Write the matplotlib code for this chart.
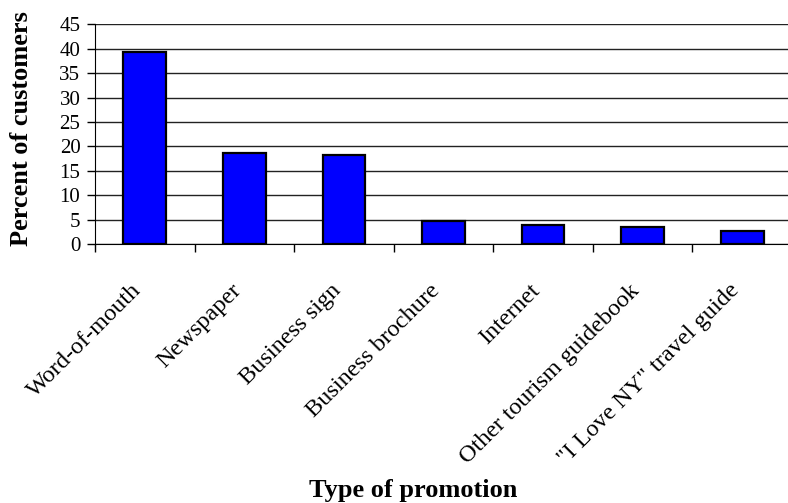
import matplotlib
matplotlib.use("Agg")
import matplotlib.pyplot as plt
import matplotlib.transforms as mtransforms
import numpy as np

categories = ["Word-of-mouth", "Newspaper", "Business sign", "Business brochure",
              "Internet", "Other tourism guidebook", "\"I Love NY\" travel guide"]
percent = [39.4, 18.6, 18.2, 4.8, 3.9, 3.5, 2.7]
yticks = [0, 5, 10, 15, 20, 25, 30, 35, 40, 45]

plt.rcParams['font.family'] = ['Liberation Serif', 'DejaVu Serif']

fig = plt.figure(figsize=(7.88, 5.03), dpi=100)
W, H = 788, 503
left, right, top, bottom = 95, 792, 24.5, 244
ax = fig.add_axes([left / W, 1 - bottom / H, (right - left) / W, (bottom - top) / H])

x = np.arange(len(categories))
ax.bar(x, percent, width=0.43, color='#0000ff', edgecolor='black', linewidth=1.6, zorder=3)

ax.set_xlim(-0.5, len(categories) - 0.5)
ax.set_ylim(0, 45)
ax.set_yticks(yticks)
ax.set_yticklabels([str(v) for v in yticks], fontsize=15)
ax.yaxis.grid(True, color='#222222', linewidth=1, zorder=0)
ax.set_axisbelow(True)

# category boundaries carry the x ticks
ax.set_xticks(np.arange(len(categories) + 1) - 0.5)
ax.set_xticklabels([])
ax.tick_params(axis='x', direction='out', length=5.5, width=1, color='black')
ax.tick_params(axis='y', direction='out', length=5.5, width=1, pad=5)

# rotated category labels, anchored just below each bar
label_tr = mtransforms.offset_copy(ax.get_xaxis_transform(), fig=fig, x=-14, y=-36, units='dots')
for xi, lab in zip(x, categories):
    ax.text(xi, 0, lab, rotation=45, ha='right', va='top', rotation_mode='anchor',
            fontsize=17.5, transform=label_tr)

for s in ['top', 'right']:
    ax.spines[s].set_visible(False)
ax.spines['left'].set_color('black')
ax.spines['bottom'].set_color('black')

fig.text(22 / W, 1 - 129 / H, "Percent of customers", fontsize=19, fontweight='bold',
         rotation=90, ha='center', va='center')
fig.text(413 / W, 1 - 490 / H, "Type of promotion", fontsize=19, fontweight='bold',
         ha='center', va='center')

fig.savefig("out.png", dpi=100)
